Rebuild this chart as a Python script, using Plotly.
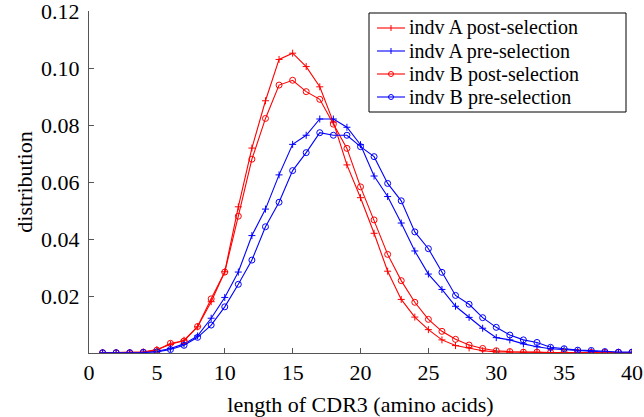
import plotly.graph_objects as go

lengths = list(range(1, 41))

indv_A_post = [0.0001, 0.0001, 0.0001, 0.0003, 0.0012, 0.0030, 0.0045, 0.0092, 0.0180, 0.0285,
               0.0513, 0.0719, 0.0885, 0.1030, 0.1052, 0.1005, 0.0934, 0.0810, 0.0660, 0.0545,
               0.0420, 0.0287, 0.0188, 0.0126, 0.0082, 0.0046, 0.0026, 0.0018, 0.0008, 0.0004,
               0.0003, 0.0002, 0.0002, 0.0002, 0.0001, 0.0001, 0.0001, 0.0001, 0.0001, 0.0001]

indv_A_pre = [0.0001, 0.0001, 0.0001, 0.0002, 0.0006, 0.0016, 0.0032, 0.0060, 0.0122, 0.0195,
              0.0284, 0.0412, 0.0505, 0.0625, 0.0732, 0.0764, 0.0821, 0.0821, 0.0792, 0.0731,
              0.0621, 0.0549, 0.0456, 0.0358, 0.0277, 0.0223, 0.0164, 0.0125, 0.0087, 0.0054,
              0.0046, 0.0032, 0.0022, 0.0015, 0.0012, 0.0007, 0.0005, 0.0003, 0.0002, 0.0002]

indv_B_post = [0.0001, 0.0001, 0.0001, 0.0003, 0.0010, 0.0034, 0.0042, 0.0093, 0.0190, 0.0284,
               0.0480, 0.0680, 0.0823, 0.0940, 0.0957, 0.0917, 0.0890, 0.0803, 0.0718, 0.0583,
               0.0467, 0.0346, 0.0254, 0.0178, 0.0118, 0.0076, 0.0048, 0.0028, 0.0016, 0.0008,
               0.0005, 0.0003, 0.0003, 0.0002, 0.0002, 0.0002, 0.0002, 0.0002, 0.0002, 0.0002]

indv_B_pre = [0.0001, 0.0001, 0.0001, 0.0002, 0.0004, 0.0012, 0.0027, 0.0055, 0.0098, 0.0162,
              0.0241, 0.0326, 0.0443, 0.0529, 0.0640, 0.0703, 0.0773, 0.0764, 0.0764, 0.0724,
              0.0689, 0.0595, 0.0534, 0.0425, 0.0366, 0.0283, 0.0202, 0.0171, 0.0124, 0.0090,
              0.0063, 0.0046, 0.0037, 0.0020, 0.0015, 0.0010, 0.0009, 0.0005, 0.0003, 0.0003]

x_ticks = [0, 5, 10, 15, 20, 25, 30, 35, 40]
y_ticks = [0.02, 0.04, 0.06, 0.08, 0.10, 0.12]
y_tick_text = ["0.02", "0.04", "0.06", "0.08", "0.10", "0.12"]

series_names = ["indv A post-selection", "indv A pre-selection",
                "indv B post-selection", "indv B pre-selection"]
series_values = [indv_A_post, indv_A_pre, indv_B_post, indv_B_pre]
series_colors = ["#ff0000", "#0000ff", "#ff0000", "#0000ff"]
series_markers = ["cross", "cross", "circle", "circle"]

W, H = 644, 417
ML, MR, MT, MB = 89, 12, 11, 64
PW, PH = W - ML - MR, H - MT - MB

def px_x(p):
    return (p - ML) / PW

def px_y(p):
    return (H - MB - p) / PH

font_family = "Liberation Serif, Times New Roman, serif"

fig = go.Figure()
for name, vals, color, mk in zip(series_names, series_values, series_colors, series_markers):
    sym = "cross-thin-open" if mk == "cross" else "circle-open"
    fig.add_trace(go.Scatter(
        x=lengths, y=vals, name=name, mode="lines+markers",
        line=dict(color=color, width=1.1),
        marker=dict(symbol=sym, size=6 if mk == "circle" else 5, color=color,
                    line=dict(color=color, width=1)),
        showlegend=False,
    ))

# custom compact legend (box, samples, labels) like the original
shapes = []
annotations = []
box = dict(x0=369, x1=626, y0=13, y1=112)
shapes.append(dict(type="rect", xref="paper", yref="paper",
                   x0=px_x(box["x0"]), x1=px_x(box["x1"]),
                   y0=px_y(box["y0"]), y1=px_y(box["y1"]),
                   line=dict(color="black", width=1), fillcolor="white", layer="above"))
row_y = [28, 51, 74, 97]
for name, color, mk, ry in zip(series_names, series_colors, series_markers, row_y):
    yy = px_y(ry)
    shapes.append(dict(type="line", xref="paper", yref="paper",
                       x0=px_x(377), x1=px_x(405), y0=yy, y1=yy,
                       line=dict(color=color, width=1.1), layer="above"))
    cx = px_x(391)
    if mk == "circle":
        shapes.append(dict(type="circle", xref="paper", yref="paper",
                           xsizemode="pixel", ysizemode="pixel", xanchor=cx, yanchor=yy,
                           x0=-2.5, x1=2.5, y0=-2.5, y1=2.5,
                           line=dict(color=color, width=1), layer="above"))
    else:
        shapes.append(dict(type="line", xref="paper", yref="paper",
                           xsizemode="pixel", ysizemode="pixel", xanchor=cx, yanchor=yy,
                           x0=0, x1=0, y0=-3, y1=3,
                           line=dict(color=color, width=1), layer="above"))
    annotations.append(dict(xref="paper", yref="paper", x=px_x(408), y=yy,
                            xanchor="left", yanchor="middle", showarrow=False,
                            borderpad=0,
                            text=name, font=dict(family=font_family, size=20, color="black")))

fig.update_layout(
    width=W, height=H,
    margin=dict(l=ML, r=MR, t=MT, b=MB, autoexpand=False),
    paper_bgcolor="white", plot_bgcolor="white",
    font=dict(family=font_family, size=22, color="black"),
    showlegend=False,
    shapes=shapes,
    annotations=annotations,
    xaxis=dict(
        range=[0, 40], tickvals=x_ticks, showgrid=False, zeroline=False,
        showline=True, linecolor="#555555", linewidth=1,
        ticks="inside", ticklen=5, tickcolor="#555555",
        tickfont=dict(family=font_family, size=22),
        ticklabeloverflow="allow",
        automargin=False,
        title=dict(text="length of CDR3 (amino acids)", font=dict(family=font_family, size=22)),
    ),
    yaxis=dict(
        range=[0, 0.12], tickvals=y_ticks, ticktext=y_tick_text, showgrid=False, zeroline=False,
        showline=True, linecolor="#555555", linewidth=1,
        ticks="inside", ticklen=5, tickcolor="#555555",
        tickfont=dict(family=font_family, size=22),
        ticklabelstandoff=4,
        ticklabeloverflow="allow",
        automargin=False,
        title=dict(text="distribution", font=dict(family=font_family, size=22), standoff=2),
    ),
)

fig.write_html("out.html", config={"displayModeBar": False},
               post_script="document.body.style.margin='0';document.body.style.overflow='hidden';")
